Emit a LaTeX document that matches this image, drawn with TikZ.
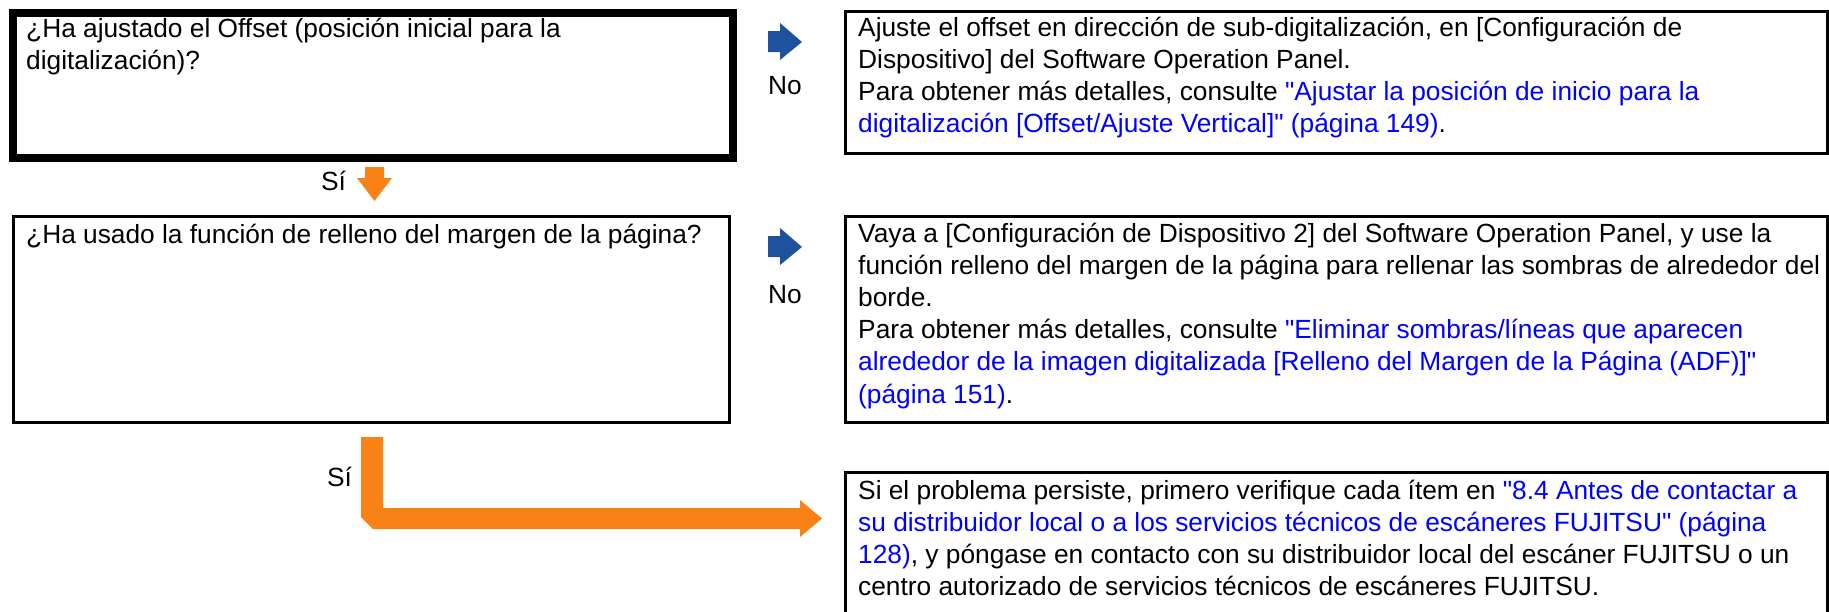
\documentclass[tikz,border=0pt]{standalone}
\usepackage{fontspec}
\setmainfont{Liberation Sans}
\definecolor{linkblue}{RGB}{0,0,255}
\definecolor{arrowblue}{RGB}{30,82,156}
\definecolor{arroworange}{RGB}{248,130,22}
\newcommand{\lk}[1]{\textcolor{linkblue}{#1}}
\newcommand{\qq}{\XeTeXglyph\XeTeXcharglyph"22\relax}
\begin{document}
\begin{tikzpicture}[x=1pt,y=-1pt,
  thickbox/.style={draw=black, line width=8pt, inner sep=0pt, anchor=north west},
  thinbox/.style={draw=black, line width=3pt, inner sep=0pt, anchor=north west},
  txt/.style={inner sep=0pt, anchor=base west, font=\fontsize{26.3}{32.2}\selectfont},
  bluearrow/.style={fill=arrowblue, draw=none},
  orangearrow/.style={fill=arroworange, draw=none}]
\useasboundingbox (0,0) rectangle (1829,611);
\clip (0,0) rectangle (1829,611);
\fill[white] (0,0) rectangle (1829,611);

% boxes
\node[thickbox, minimum width=720pt, minimum height=145pt] (q1) at (9,9) {};
\node[thinbox, minimum width=716pt, minimum height=206.5pt] (q2) at (11.5,214.5) {};
\node[thinbox, minimum width=982.5pt, minimum height=142.5pt] (a1) at (843.5,9.5) {};
\node[thinbox, minimum width=982.5pt, minimum height=206pt] (a2) at (843.5,214.5) {};
\node[thinbox, minimum width=982.5pt, minimum height=150pt] (a3) at (843.5,471) {};

% texts
\node[txt] (q1t) at (26,37) {\parbox[t]{720pt}{\raggedright ¿Ha ajustado el Offset (posición inicial para la\\digitalización)?}};
\node[txt] (q2t) at (26,243) {\parbox[t]{720pt}{\raggedright ¿Ha usado la función de relleno del margen de la página?}};
\node[txt] (a1t) at (858,36) {\parbox[t]{1000pt}{\raggedright Ajuste el offset en dirección de sub-digitalización, en [Configuración de\\Dispositivo] del Software Operation Panel.\\Para obtener más detalles, consulte \lk{\qq Ajustar la posición de inicio para la}\\\lk{digitalización [Offset/Ajuste Vertical]\qq{} (página 149)}.}};
\node[txt] (a2t) at (858,242) {\parbox[t]{1000pt}{\raggedright Vaya a [Configuración de Dispositivo 2] del Software Operation Panel, y use la\\función relleno del margen de la página para rellenar las sombras de alrededor del\\borde.\\Para obtener más detalles, consulte \lk{\qq Eliminar sombras/líneas que aparecen}\\\lk{alrededor de la imagen digitalizada [Relleno del Margen de la Página (ADF)]\qq}\\\lk{(página 151)}.}};
\node[txt] (a3t) at (858,499) {\parbox[t]{1000pt}{\raggedright Si el problema persiste, primero verifique cada ítem en \lk{\qq 8.4 Antes de contactar a}\\\lk{su distribuidor local o a los servicios técnicos de escáneres FUJITSU\qq{} (página}\\\lk{128)}, y póngase en contacto con su distribuidor local del escáner FUJITSU o un\\centro autorizado de servicios técnicos de escáneres FUJITSU.}};

% labels
\node[txt] (no1) at (768,94) {No};
\node[txt] (no2) at (768,303) {No};
\node[txt] (si1) at (321,190) {Sí};
\node[txt] (si2) at (327,486) {Sí};

% blue arrows
\fill[bluearrow] (768,31) -- (780,31) -- (780,23) -- (802,42) -- (780,60) -- (780,52) -- (768,52) -- cycle;
\fill[bluearrow] (768,236) -- (780,236) -- (780,228) -- (802,247) -- (780,265) -- (780,257) -- (768,257) -- cycle;

% orange arrows
\fill[orangearrow] (365,167) -- (384,167) -- (384,178) -- (392,178) -- (374.5,201) -- (357,178) -- (365,178) -- cycle;
\coordinate (lstart) at (361,437);
\coordinate (ltip) at (822,518.5);
\fill[orangearrow] (lstart) -- (383,437) -- (383,508) -- (800,508) -- (800,500) -- (ltip) -- (800,537) -- (800,529) -- (373,529) -- (361,517) -- cycle;
\end{tikzpicture}
\end{document}
